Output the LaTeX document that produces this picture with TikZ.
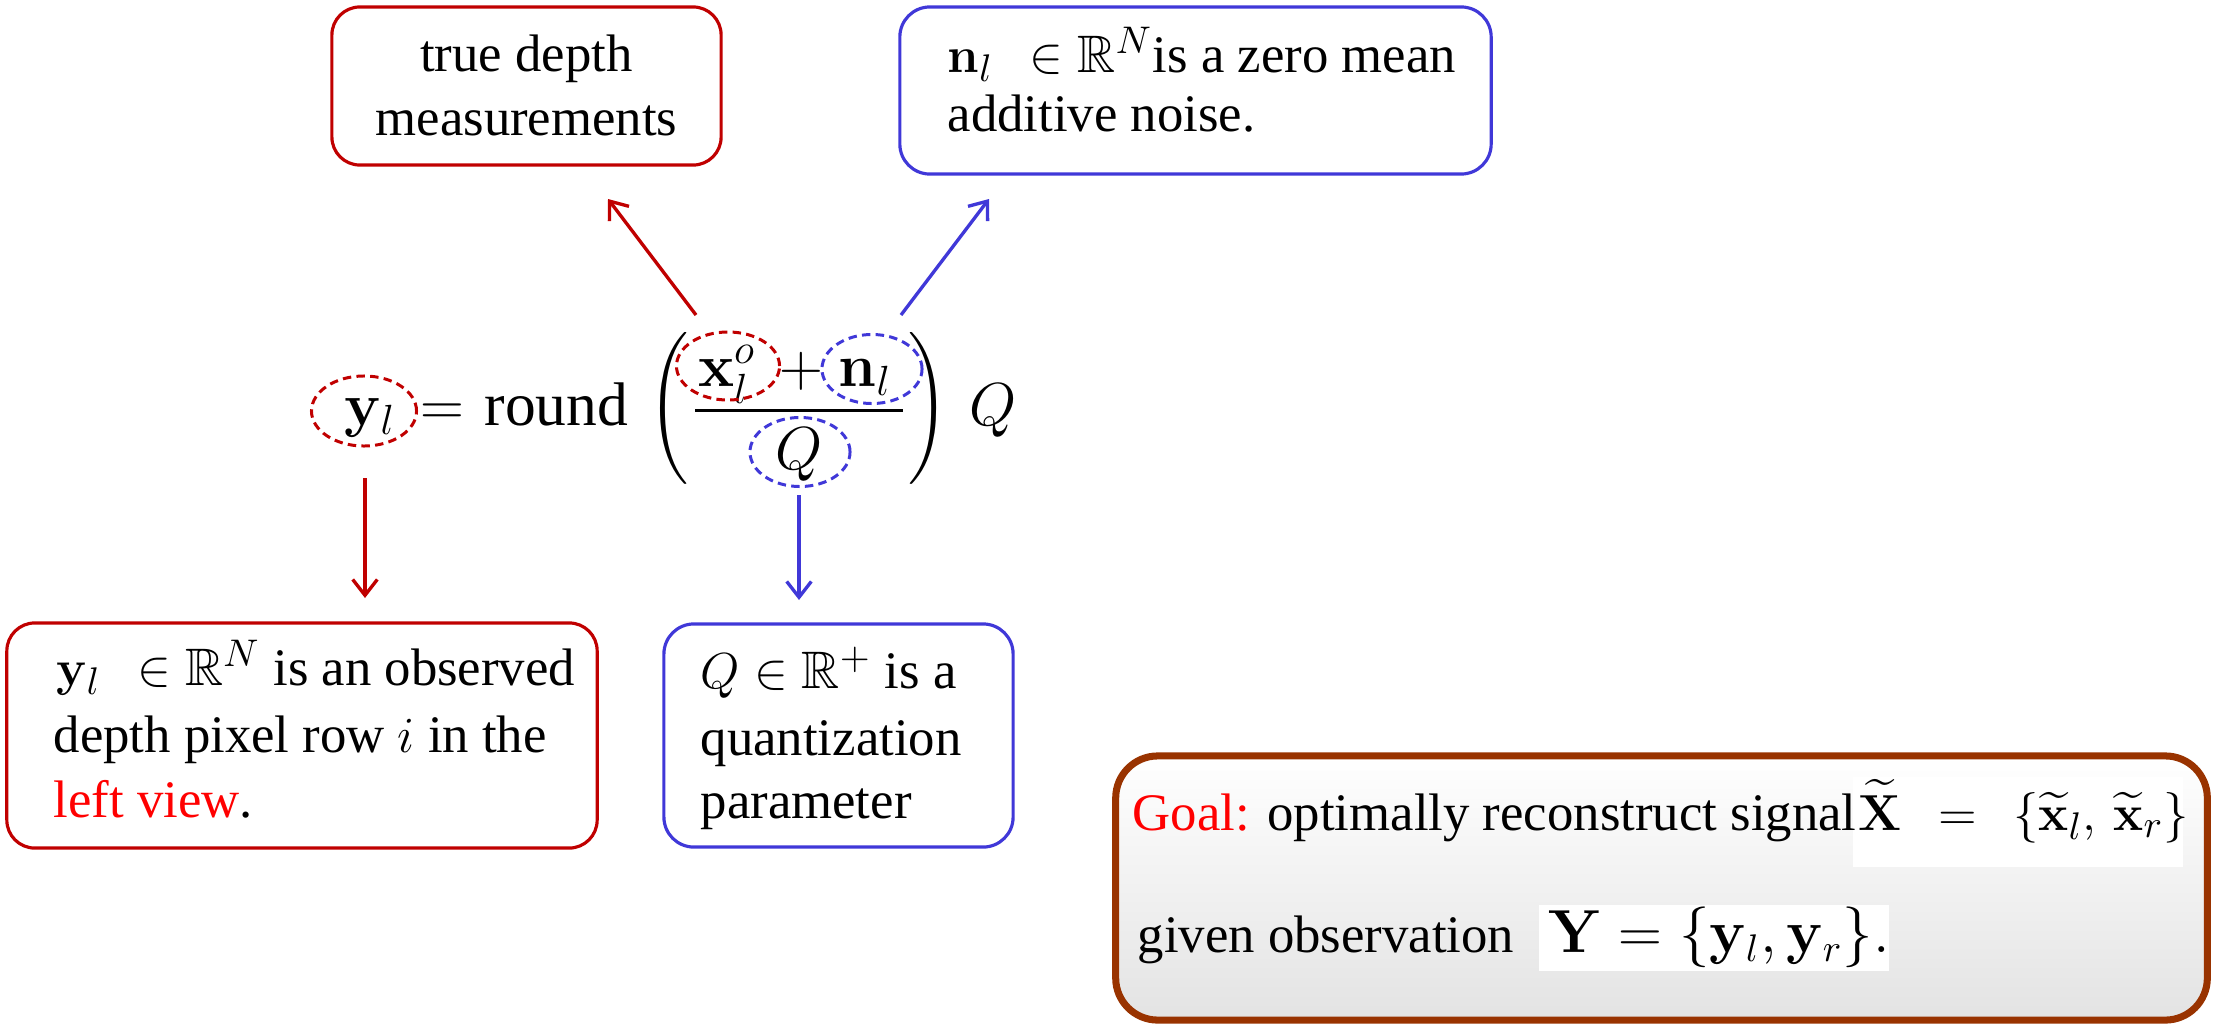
\documentclass[tikz,border=0pt]{standalone}
\usepackage{amsmath,amssymb}
\usepackage[no-math]{fontspec}
\setmainfont{Liberation Serif}
\usetikzlibrary{arrows.meta,shapes.geometric}
\definecolor{myred}{RGB}{192,0,0}
\definecolor{myblue}{RGB}{64,56,216}
\definecolor{mybrown}{RGB}{153,51,0}
\newcommand{\bfnt}{\fontsize{15}{18}\selectfont}
\newcommand{\efnt}{\fontsize{17.5}{21}\selectfont}
\newcommand{\pfnt}{\fontsize{14.4}{17}\selectfont}
\tikzset{
  boxr/.style={draw=myred, line width=0.9pt, rounded corners=0.28cm, inner sep=0},
  boxb/.style={draw=myblue, line width=0.9pt, rounded corners=0.30cm, inner sep=0},
  txt/.style={inner sep=0, font=\bfnt},
  etxt/.style={inner sep=0, font=\efnt},
  ptxt/.style={inner sep=0, font=\pfnt},
  ell/.style={ellipse, line width=0.85pt, dash pattern=on 2.4pt off 1.5pt, inner sep=0},
  arr/.style={line width=0.95pt, -{Straight Barb[length=4.5pt,width=7pt]}},
}
\begin{document}
\begin{tikzpicture}[x=0.01cm,y=-0.01cm]
\useasboundingbox (0,0) rectangle (2216,1024);

% ---------- top boxes ----------
\node[boxr, minimum width=3.89cm, minimum height=1.58cm] (tdbox) at (526.5,86) {};
\node[txt, anchor=base] (td1) at (526.5,71) {true depth};
\node[txt, anchor=base] (td2) at (526.5,135) {measurements};

\node[boxb, minimum width=5.91cm, minimum height=1.67cm] (nbox) at (1195.5,90.5) {};
\node[txt, anchor=base west] (nb1) at (947,72) {$\mathbf{n}_l\;\,\in\mathbb{R}^N$is a zero mean};
\node[txt, anchor=base west] (nb2) at (947,131) {additive noise.};

% ---------- equation ----------
\node[etxt, anchor=base] (ylt) at (370,425) {$\mathbf{y}_l$};
\node[ell, draw=myred, minimum width=1.05cm, minimum height=0.70cm] (yl) at (364,411) {};
\node[etxt, anchor=base] (eqs) at (442,425) {$=$};
\node[etxt, anchor=base west] (rnd) at (484,425) {round};
\node[ptxt, anchor=center] (lp) at (669,408) {$\Bigg($};
\node[etxt, anchor=base] (xt) at (727,386) {$\mathbf{x}_l^o$};
\node[ell, draw=myred, minimum width=1.03cm, minimum height=0.68cm] (xl) at (728,366) {};
\node[etxt, anchor=base] (pls) at (801,386) {$+$};
\node[etxt, anchor=base] (nt) at (865,386) {$\mathbf{n}_l$};
\node[ell, draw=myblue, minimum width=1.00cm, minimum height=0.69cm] (nl) at (872,369) {};
\coordinate (fb1) at (695,410);
\coordinate (fb2) at (903,410);
\draw[line width=0.85pt] (fb1) -- (fb2);
\node[etxt, anchor=base] (qt) at (799,469) {$Q$};
\node[ell, draw=myblue, minimum width=1.00cm, minimum height=0.69cm] (qd) at (800,452) {};
\node[ptxt, anchor=center] (rp) at (929,408) {$\Bigg)$};
\node[etxt, anchor=base] (qo) at (993,425) {$Q$};

% ---------- arrows ----------
\coordinate (ra1) at (696,315);
\coordinate (ra2) at (608,199);
\coordinate (ba1) at (901,315);
\coordinate (ba2) at (989,199);
\coordinate (rd1) at (365,478);
\coordinate (rd2) at (365,598);
\coordinate (bd1) at (799,495);
\coordinate (bd2) at (799,600);
\draw[arr, myred] (ra1) -- (ra2);
\draw[arr, myblue] (ba1) -- (ba2);
\draw[arr, myred] (rd1) -- (rd2);
\draw[arr, myblue] (bd1) -- (bd2);

% ---------- bottom boxes ----------
\node[boxr, minimum width=5.90cm, minimum height=2.25cm] (ybox) at (302,735.5) {};
\node[txt, anchor=base west] (yb1) at (56,685) {$\mathbf{y}_l\;\,\in\mathbb{R}^N$ is an observed};
\node[txt, anchor=base west] (yb2) at (53,752) {depth pixel row $i$ in the};
\node[txt, anchor=base west] (yb3) at (53,817) {\textcolor{red}{left view}.};

\node[boxb, minimum width=3.49cm, minimum height=2.23cm] (qbox) at (838.5,735.5) {};
\node[txt, anchor=base west] (qb1) at (700,688) {$Q\in\mathbb{R}^+$ is a};
\node[txt, anchor=base west] (qb2) at (700,755) {quantization};
\node[txt, anchor=base west] (qb3) at (700,818) {parameter};

% ---------- goal box ----------
\node[draw=mybrown, line width=2pt, rounded corners=0.42cm, top color=white, bottom color=black!11,
      minimum width=10.91cm, minimum height=2.64cm, inner sep=0] (goal) at (1661.5,888) {};
\node[fill=white, minimum width=3.30cm, minimum height=0.90cm, inner sep=0] (gm1bg) at (2018,822) {};
\node[fill=white, minimum width=3.50cm, minimum height=0.66cm, inner sep=0] (gm2bg) at (1714,938) {};
\node[txt, anchor=base west] (g1) at (1132,830) {\textcolor{red}{Goal:} optimally reconstruct signal};
\node[txt, anchor=base west] (gm1) at (1858,830) {$\widetilde{\mathbf{X}}\;\,=\;\,\{\widetilde{\mathbf{x}}_l,\,\widetilde{\mathbf{x}}_r\}$};
\node[txt, anchor=base west] (g2) at (1137,952) {given observation};
\node[inner sep=0, font=\fontsize{16}{19}\selectfont, anchor=base west] (gm2) at (1548,952) {$\mathbf{Y}=\{\mathbf{y}_l,\mathbf{y}_r\}.$};
\end{tikzpicture}
\end{document}
